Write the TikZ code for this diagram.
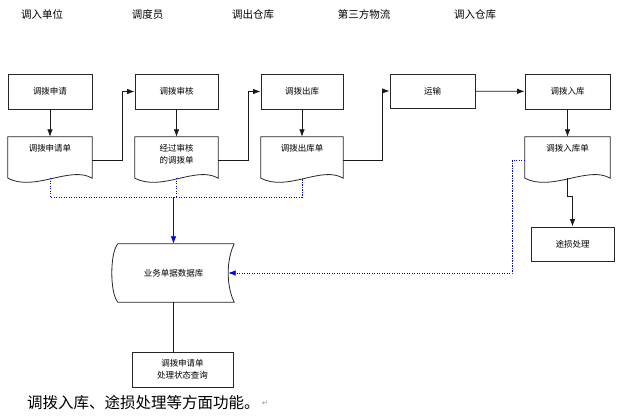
\documentclass[tikz,border=0pt]{standalone}
\usepackage{fontspec}
\setmainfont{Noto Sans CJK SC}
\newfontfamily\symfont{DejaVu Sans}
\usetikzlibrary{arrows.meta,calc}
\tikzset{
  box/.style={draw=black!85, line width=0.8pt, minimum width=84pt, minimum height=35pt, inner sep=0pt, align=center, font=\fontsize{8.5}{12}\selectfont},
  docarea/.style={minimum width=84pt, minimum height=41pt, inner sep=0pt},
  doctext/.style={inner sep=0pt, align=center, font=\fontsize{8.5}{12}\selectfont},
  docline/.style={draw=black!85, line width=0.8pt},
  head/.style={inner sep=0pt, font=\fontsize{10.5}{12}\selectfont},
  arr/.style={draw=black!90, line width=0.8pt, -{Latex[length=7.5pt,width=5.5pt]}},
  plain/.style={draw=black!90, line width=0.8pt},
  bdot/.style={draw=blue, line width=0.8pt, dash pattern=on 1.2pt off 1.3pt},
  bdotarr/.style={bdot, -{Latex[length=7.5pt,width=5.5pt]}},
  barr/.style={draw=blue, line width=0.8pt, -{Latex[length=7.5pt,width=5.5pt]}}
}
\newcommand\docoutline[1]{\draw[docline] (#1.south west) -- (#1.north west) -- (#1.north east) -- (#1.south east) .. controls ($(#1.south east)+(-22,-13)$) and ($(#1.south west)+(27,14)$) .. (#1.south west);}
\begin{document}
\begin{tikzpicture}[x=1pt,y=-1pt]
\useasboundingbox[fill=white] (0,0) rectangle (625,420);
% headers
\node[head] (h1) at (42,14.5) {调入单位};
\node[head] (h2) at (147.5,14.5) {调度员};
\node[head] (h3) at (253,14.5) {调出仓库};
\node[head] (h4) at (364,14.5) {第三方物流};
\node[head] (h5) at (475,14.5) {调入仓库};
% top row boxes
\node[box] (b1) at (50,91.5) {调拨申请};
\node[box, minimum width=83pt] (b2) at (176.5,91.5) {调拨审核};
\node[box, minimum width=82pt] (b3) at (302,91.5) {调拨出库};
\node[box, minimum width=85pt, minimum height=34pt] (b4) at (432.5,91) {运输};
\node[box, minimum width=85pt] (b5) at (567.5,91.5) {调拨入库};
% documents
\node[docarea] (d1) at (50,157.5) {};
\node[docarea, minimum width=83pt] (d2) at (176.5,157.5) {};
\node[docarea, minimum width=82pt] (d3) at (302,157.5) {};
\node[docarea, minimum width=85pt] (d5) at (567.5,157.5) {};
\docoutline{d1}
\docoutline{d2}
\docoutline{d3}
\docoutline{d5}
\node[doctext] (d1t) at (50,148) {调拨申请单};
\node[doctext] (d2t) at (176.5,154) {经过审核\\的调拨单};
\node[doctext] (d3t) at (302,148) {调拨出库单};
\node[doctext] (d5t) at (567.5,148) {调拨入库单};
% loss box
\node[box, minimum width=83pt, minimum height=34pt] (ts) at (572.5,244) {途损处理};
% database
\node[docarea, minimum width=121pt, minimum height=58pt, font=\fontsize{8.5}{12}\selectfont] (db) at (173.5,273) {业务单据数据库};
\draw[docline] ($(db.north east)$) -- ($(db.north west)+(5,0)$)
  .. controls ($(db.west)+(-3,-20)$) and ($(db.west)+(-3,20)$) .. ($(db.south west)+(5,0)$)
  -- (db.south east)
  .. controls ($(db.east)+(-8,13)$) and ($(db.east)+(-8,-13)$) .. (db.north east);
\coordinate (dbin) at ($(db.east)+(-6,0)$);
% query box
\node[box, minimum width=101pt, minimum height=35pt] (q) at (182.5,369.5) {调拨申请单\\处理状态查询};
% vertical arrows
\draw[arr] (b1) -- (d1);
\draw[arr] (b2) -- (d2);
\draw[arr] (b3) -- (d3);
\draw[arr] (b5) -- (d5);
% doc to next box
\draw[arr] ([yshift=-2.5pt]d1.east) -- ++(30,0) |- (b2.west);
\draw[arr] ([yshift=-2.5pt]d2.east) -- ++(30,0) |- (b3.west);
\draw[arr] ([yshift=-2.5pt]d3.east) -- ++(39,0) |- (b4.west);
\draw[arr] (b4) -- (b5);
% doc5 to loss
\draw[arr] (d5.south) -- ++(0,18) -| (ts.north);
% dotted to database
\coordinate (j) at (173.5,197);
\draw[bdot] (d1.south) |- (j);
\draw[bdot] (j) -| (d3.south);
\draw[bdot] (d2.south) -- (d2.south |- j);
\draw[barr] (j) -- (db.north);
\draw[bdotarr] ([yshift=-2.5pt]d5.west) -- ++(-12,0) |- (dbin);
% database to query
\draw[plain] (db.south) -- (db.south |- q.north);
% bottom text
\node[anchor=west, inner sep=0pt, font=\fontsize{15.5}{16}\selectfont] (bt) at (27,403) {调拨入库、途损处理等方面功能。};
\node[anchor=west, inner sep=0pt, text=black!45, font=\symfont\fontsize{7}{8}\selectfont] (rt) at ($(bt.east)+(2,0)$) {↵};
\end{tikzpicture}
\end{document}
